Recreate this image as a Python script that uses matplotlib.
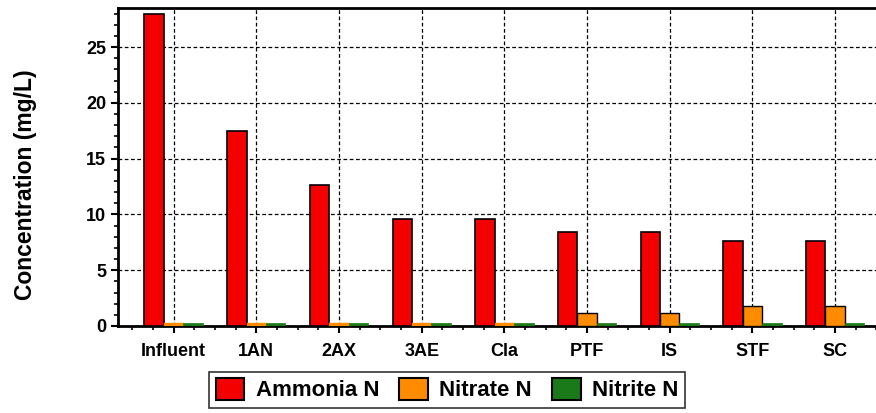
import numpy as np
import matplotlib.pyplot as plt
from matplotlib.ticker import MultipleLocator

plt.rcParams['font.family'] = ['Liberation Sans', 'DejaVu Sans']
plt.rcParams['font.weight'] = 'bold'

stages = ["Influent", "1AN", "2AX", "3AE", "Cla", "PTF", "IS", "STF", "SC"]
ammonia = [28.0, 17.5, 12.6, 9.6, 9.6, 8.45, 8.45, 7.65, 7.65]
nitrate = [0.25, 0.25, 0.25, 0.25, 0.25, 1.15, 1.15, 1.8, 1.8]
nitrite = [0.25, 0.25, 0.25, 0.25, 0.25, 0.25, 0.25, 0.25, 0.25]

fig = plt.figure(figsize=(8.76, 4.13), dpi=100)
ax = fig.add_axes([0.1347, 0.2107, 0.8753, 0.7699])

x = np.arange(len(stages))
w = 0.235
orange = '#ff8c00'
green = '#1a7a1a'
ax.bar(x - w, ammonia, w, color='#f50000', edgecolor='black', linewidth=1.2,
       label='Ammonia N', zorder=3)
ax.bar(x, nitrate, w, color=orange,
       edgecolor=['black' if v > 0.5 else orange for v in nitrate], linewidth=1.0,
       label='Nitrate N', zorder=3)
ax.bar(x + w, nitrite, w, color=green,
       edgecolor=['black' if v > 0.5 else green for v in nitrite], linewidth=0.5,
       label='Nitrite N', zorder=3)

ax.set_xlim(-0.673, 8.6)
ax.set_ylim(0, 28.5)
ax.set_xticks(x)
ax.set_xticklabels(stages, fontsize=13, fontweight='bold')
ax.xaxis.set_minor_locator(MultipleLocator(0.25))
ax.yaxis.set_major_locator(MultipleLocator(5))
ax.yaxis.set_minor_locator(MultipleLocator(1))
for lab in ax.get_yticklabels():
    lab.set_fontsize(13)
    lab.set_fontweight('bold')

ax.tick_params(which='major', length=5, width=1.5, direction='out')
ax.tick_params(which='minor', length=3, width=1.2, direction='out')
ax.tick_params(axis='x', pad=7)

ax.grid(True, which='major', linestyle=(0, (3, 2)), color='black', linewidth=0.9, zorder=0)
for side in ['left', 'bottom', 'top']:
    ax.spines[side].set_linewidth(2)
ax.spines['right'].set_visible(False)

ax.set_ylabel("Concentration (mg/L)", fontsize=16.5, fontweight='bold')
ax.yaxis.set_label_coords(-0.106, 0.443)

leg = fig.legend(loc='center', bbox_to_anchor=(0.51, 0.056), ncol=3, fontsize=16,
                 frameon=True, fancybox=False, edgecolor='black', handlelength=1.3,
                 handleheight=1.1, columnspacing=0.9, handletextpad=0.5, borderpad=0.3)
leg.get_frame().set_linewidth(1.2)
for t in leg.get_texts():
    t.set_fontweight('bold')
for h in leg.legend_handles:
    h.set_edgecolor('black')
    h.set_linewidth(1.5)

fig.savefig("out.png", dpi=100)
